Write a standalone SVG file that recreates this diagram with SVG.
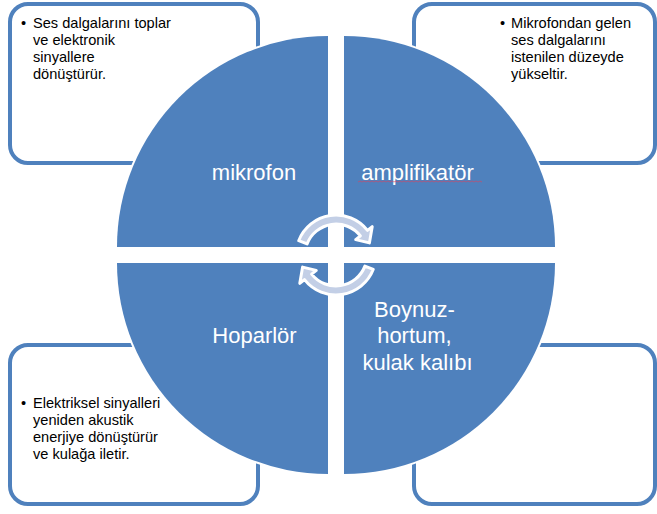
<svg xmlns="http://www.w3.org/2000/svg" width="657" height="514" viewBox="0 0 657 514">
  <style>
    .box { fill: #ffffff; stroke: #4F81BD; stroke-width: 4; }
    .quad { fill: #4F81BD; stroke: #ffffff; stroke-width: 4; paint-order: stroke; }
    .arrow { fill: #C3CFE6; stroke: #ffffff; stroke-width: 3; stroke-linejoin: round; }
    .bt { font-family: "Liberation Sans", Arial, sans-serif; font-size: 14.6px; fill: #000000; }
    .qt { font-family: "Liberation Sans", Arial, sans-serif; font-size: 22px; fill: #ffffff; text-anchor: middle; }
  </style>
  <defs>
    <path id="carrow" d="M298.7,240.7 A40,40 0 0 1 367.5,230.4 L372.2,226.7 L369.4,242.9 L355.7,239.6 L360.4,235.9 A31,31 0 0 0 307.1,243.9 Z"/>
  </defs>

  <g id="box-tl">
    <rect class="box" x="10" y="4" width="248" height="159" rx="18"/>
    <text class="bt" x="21" y="28">•</text>
    <text class="bt">
      <tspan x="33" y="28">Ses dalgalarını toplar</tspan>
      <tspan x="33" y="45">ve elektronik</tspan>
      <tspan x="33" y="62">sinyallere</tspan>
      <tspan x="33" y="79">dönüştürür.</tspan>
    </text>
  </g>
  <g id="box-tr">
    <rect class="box" x="414" y="4" width="241" height="159" rx="18"/>
    <text class="bt" x="500" y="28">•</text>
    <text class="bt">
      <tspan x="511" y="28">Mikrofondan gelen</tspan>
      <tspan x="511" y="45">ses dalgalarını</tspan>
      <tspan x="511" y="62">istenilen düzeyde</tspan>
      <tspan x="511" y="79">yükseltir.</tspan>
    </text>
  </g>
  <g id="box-bl">
    <rect class="box" x="10" y="345" width="248" height="159" rx="18"/>
    <text class="bt" x="21" y="408">•</text>
    <text class="bt">
      <tspan x="33" y="408">Elektriksel sinyalleri</tspan>
      <tspan x="33" y="425">yeniden akustik</tspan>
      <tspan x="33" y="442">enerjiye dönüştürür</tspan>
      <tspan x="33" y="459">ve kulağa iletir.</tspan>
    </text>
  </g>
  <g id="box-br">
    <rect class="box" x="414" y="345" width="241" height="159" rx="18"/>
  </g>

  <g id="q-mikrofon">
    <path class="quad" d="M328,247 L117,247 A211,211 0 0 1 328,36 Z"/>
    <text class="qt" x="254" y="180">mikrofon</text>
  </g>
  <g id="q-amplifikator">
    <path class="quad" d="M344,247 L344,36 A211,211 0 0 1 555,247 Z"/>
    <text class="qt" x="417.5" y="180">amplifikatör</text>
    <path d="M358,182 l2,-1 l2,1 l2,-1 l2,1 l2,-1 l2,1 l2,-1 l2,1 l2,-1 l2,1 l2,-1 l2,1 l2,-1 l2,1 l2,-1 l2,1 l2,-1 l2,1 l2,-1 l2,1 l2,-1 l2,1 l2,-1 l2,1 l2,-1 l2,1 l2,-1 l2,1 l2,-1 l2,1 l2,-1 l2,1 l2,-1 l2,1 l2,-1 l2,1 l2,-1 l2,1 l2,-1 l2,1 l2,-1 l2,1 l2,-1 l2,1 l2,-1 l2,1 l2,-1 l2,1 l2,-1 l2,1 l2,-1 l2,1 l2,-1 l2,1 l2,-1 l2,1 l2,-1 l2,1 l2,-1 l2,1 l2,-1 l2,1" fill="none" stroke="#D9435E" stroke-width="0.8" opacity="0.8"/>
  </g>
  <g id="q-boynuz">
    <path class="quad" d="M344,263 L555,263 A211,211 0 0 1 344,474 Z"/>
    <text class="qt">
      <tspan x="417.5" y="317">Boynuz-</tspan>
      <tspan x="417.5" y="343">hortum,</tspan>
      <tspan x="417.5" y="370">kulak kalıbı</tspan>
    </text>
  </g>
  <g id="q-hoparlor">
    <path class="quad" d="M328,263 L328,474 A211,211 0 0 1 117,263 Z"/>
    <text class="qt" x="254.5" y="343">Hoparlör</text>
  </g>

  <g id="connectors">
    <use href="#carrow" class="arrow"/>
    <use href="#carrow" class="arrow" transform="rotate(180 336 255)"/>
  </g>
</svg>
